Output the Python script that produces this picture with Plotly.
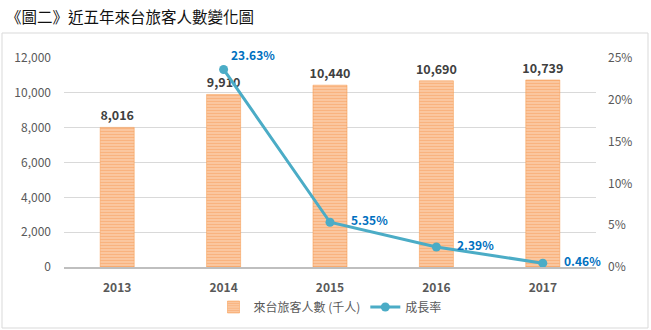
import plotly.graph_objects as go

years = ["2013", "2014", "2015", "2016", "2017"]
visitors = [8016, 9910, 10440, 10690, 10739]
growth_years = ["2014", "2015", "2016", "2017"]
growth = [0.2363, 0.0535, 0.0239, 0.0046]
growth_labels = ["23.63%", "5.35%", "2.39%", "0.46%"]

FONT = "Noto Sans CJK TC, Noto Sans, sans-serif"
fig = go.Figure()
fig.add_trace(go.Bar(
    x=years, y=visitors, name="來台旅客人數 (千人)",
    width=0.32,
    marker=dict(color="#FBD3B4", line=dict(color="#F79646", width=0.5),
                pattern=dict(shape="-", fgcolor="#F7934A", bgcolor="#FBD3B4", size=3, solidity=0.6)),
    text=[f"<b>{v:,}</b>" for v in visitors], textposition="outside",
    constraintext="none",
    textfont=dict(size=12.5, color="#404040", family=FONT),
    cliponaxis=False,
))
fig.add_trace(go.Scatter(
    x=growth_years, y=growth, name="成長率", yaxis="y2",
    mode="lines+markers",
    line=dict(color="#4BACC6", width=3),
    marker=dict(size=9, color="#4BACC6"),
    cliponaxis=False,
))
placements = [(5, 4, "bottom"), (19, 3, "middle"), (19, 3, "middle"), (19, 3, "middle")]
for xv, yv, lab, (dx, dy, ya) in zip(growth_years, growth, growth_labels, placements):
    fig.add_annotation(x=years.index(xv), y=yv, xref="x", yref="y2", text=f"<b>{lab}</b>",
                       showarrow=False, xanchor="left", yanchor=ya,
                       xshift=dx, yshift=dy,
                       font=dict(size=12, color="#0070C0", family=FONT))

fig.add_annotation(xref="paper", yref="paper", x=(4-64)/532, y=(267-16)/209,
                   text="《圖二》近五年來台旅客人數變化圖", showarrow=False,
                   xanchor="left", yanchor="middle",
                   font=dict(size=15.5, color="#111111", family=FONT))

fig.add_shape(type="rect", xref="paper", yref="paper",
              x0=(2-64)/532, x1=(648-64)/532, y0=(267-328)/209, y1=(267-33)/209,
              line=dict(color="#D9D9D9", width=1), layer="below")

fig.update_layout(
    width=651, height=330,
    margin=dict(l=64, r=55, t=58, b=63, autoexpand=False),
    paper_bgcolor="white", plot_bgcolor="white",
    font=dict(family=FONT, color="#595959", size=12),
    showlegend=True,
    legend=dict(orientation="h", x=0.5, xanchor="center", yref="container", y=(330-307)/330,
                yanchor="middle", font=dict(size=12, color="#595959"), traceorder="normal"),
    xaxis=dict(type="category", range=[-0.5, 4.5], showline=True, linecolor="#BFBFBF", linewidth=2,
               tickfont=dict(size=12, color="#595959", family=FONT), automargin=False,
               tickvals=years, ticktext=[f"<b>{y}</b>" for y in years], ticks="",
               ticklabelstandoff=9),
    yaxis=dict(range=[0, 12000], dtick=2000, tickformat=",", gridcolor="#D9D9D9",
               zeroline=False, tickfont=dict(size=12), automargin=False, ticklabelstandoff=12),
    yaxis2=dict(range=[0, 0.25], dtick=0.05, tickformat=".0%", overlaying="y", side="right",
                showgrid=False, zeroline=False, tickfont=dict(size=12), automargin=False,
                ticklabelstandoff=11),
)
fig.write_html("out.html")
